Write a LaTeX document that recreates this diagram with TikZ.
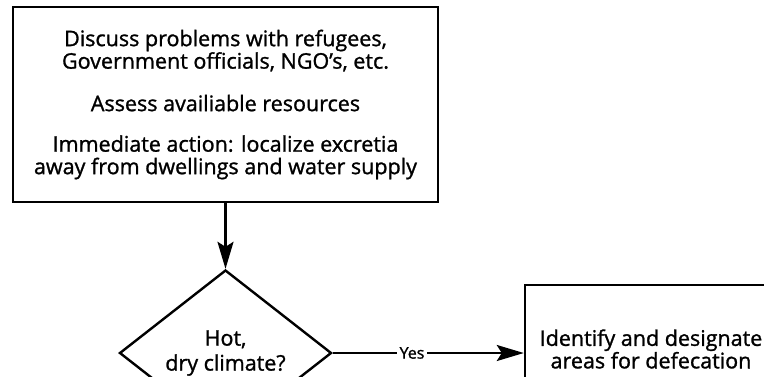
\documentclass[tikz,border=0pt]{standalone}
\usepackage{fontspec}
\setmainfont{Open Sans}[FakeBold=1.2,UprightFeatures={FakeBold=1.2}]
\usetikzlibrary{arrows.meta,shapes.geometric}
\begin{document}
\begin{tikzpicture}[x=1pt,y=-1pt,
  line width=2.4pt,
  txt/.style={font=\fontsize{21.5}{22.5}\selectfont,align=center},
  box/.style={draw,rectangle,inner sep=0pt,txt},
  decision/.style={draw,diamond,inner sep=0pt,minimum width=212pt,minimum height=166pt,
    font=\fontsize{21.5}{25}\selectfont,align=center},
  flow/.style={-{Stealth[length=27pt,width=16pt,inset=5pt]}},
  yeslbl/.style={fill=white,inner sep=3pt,font=\fontsize{16}{18}\selectfont}]
\useasboundingbox (0,0) rectangle (764,376);
\clip (0,0) rectangle (764,376);

% first step: consultation and immediate action
\node[box,minimum width=425pt,minimum height=195pt] (start) at (225.5,104.5)
  {Discuss problems with refugees,\\
   Government officials, NGO’s, etc.\\[20pt]
   Assess availiable resources\\[18pt]
   Immediate action: localize excretia\\
   away from dwellings and water supply};

% climate decision
\node[decision] (climate) at (225.5,353) {Hot,\\dry climate?};

% action for hot, dry climate
\node[box,minimum width=252pt,minimum height=128pt] (defec) at (651,349)
  {Identify and designate\\areas for defecation};

\draw[flow] (start.south) -- (climate.north);
\draw[flow] (climate.east) -- node[yeslbl,pos=0.415] (yes) {Yes} (climate.east -| defec.west);
\end{tikzpicture}
\end{document}
